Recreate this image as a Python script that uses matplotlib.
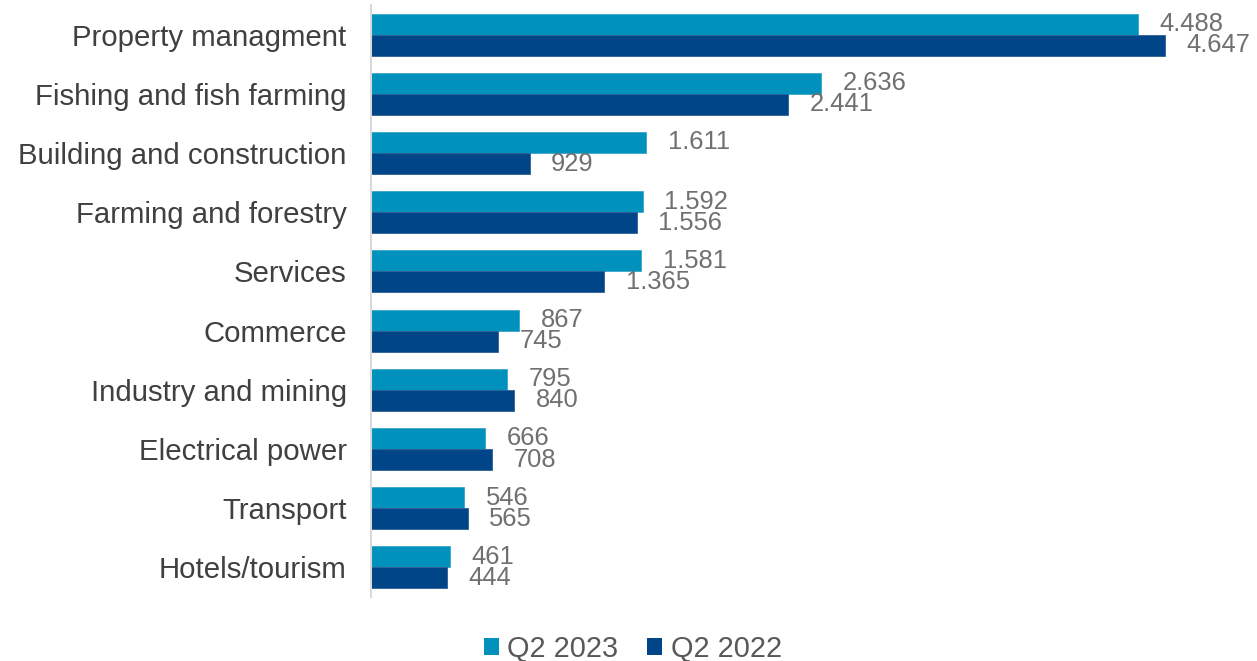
import matplotlib
matplotlib.use("Agg")
import matplotlib.pyplot as plt
import numpy as np
from matplotlib.patches import Patch

categories = ["Property managment", "Fishing and fish farming", "Building and construction",
              "Farming and forestry", "Services", "Commerce", "Industry and mining",
              "Electrical power", "Transport", "Hotels/tourism"]
q2_2023 = [4488, 2636, 1611, 1592, 1581, 867, 795, 666, 546, 461]
q2_2022 = [4647, 2441, 929, 1556, 1365, 745, 840, 708, 565, 444]
series_names = ["Q2 2023", "Q2 2022"]

c_light = "#0091BD"
c_dark = "#004587"

plt.rcParams["font.family"] = ["Liberation Sans", "DejaVu Sans"]

fig = plt.figure(figsize=(12.57, 6.61), dpi=100)
ax = fig.add_axes([371 / 1257, 1 - 597 / 661, (1225 - 371) / 1257, (597 - 5) / 661])

n = len(categories)
y = np.arange(n)
h = 0.355

def fmt(v):
    return f"{v:,}".replace(",", ".")

b1 = ax.barh(y - h / 2, q2_2023, height=h, color=c_light, edgecolor="#3aa6cc", linewidth=0.6)
b2 = ax.barh(y + h / 2, q2_2022, height=h, color=c_dark, edgecolor="#2f5f95", linewidth=0.6)

for bars, vals in ((b1, q2_2023), (b2, q2_2022)):
    for bar, v in zip(bars, vals):
        ax.annotate(fmt(v), xy=(v, bar.get_y() + bar.get_height() / 2),
                    xytext=(15.5, 0), textcoords="offset points",
                    va="center", ha="left", fontsize=18.4, color="#707070")

ax.set_xlim(0, 5000)
ax.set_ylim(n - 0.5, -0.5)
ax.set_yticks(y)
ax.set_yticklabels(categories, fontsize=21.2, color="#404040")
ax.tick_params(axis="y", length=0, pad=17.5)
ax.set_xticks([])
for s in ("top", "right", "bottom"):
    ax.spines[s].set_visible(False)
ax.spines["left"].set_color("#D9D9D9")
ax.spines["left"].set_linewidth(1.5)

handles = [Patch(facecolor=c_light, label=series_names[0]),
           Patch(facecolor=c_dark, label=series_names[1])]
leg = fig.legend(handles=handles, loc="center", bbox_to_anchor=(633 / 1257, 1 - 649 / 661),
                 ncol=2, frameon=False, fontsize=20.8, handlelength=0.52, handleheight=0.52,
                 handletextpad=0.3, columnspacing=1.0, borderpad=0)
for t in leg.get_texts():
    t.set_color("#595959")

fig.savefig("out.png", dpi=100)
